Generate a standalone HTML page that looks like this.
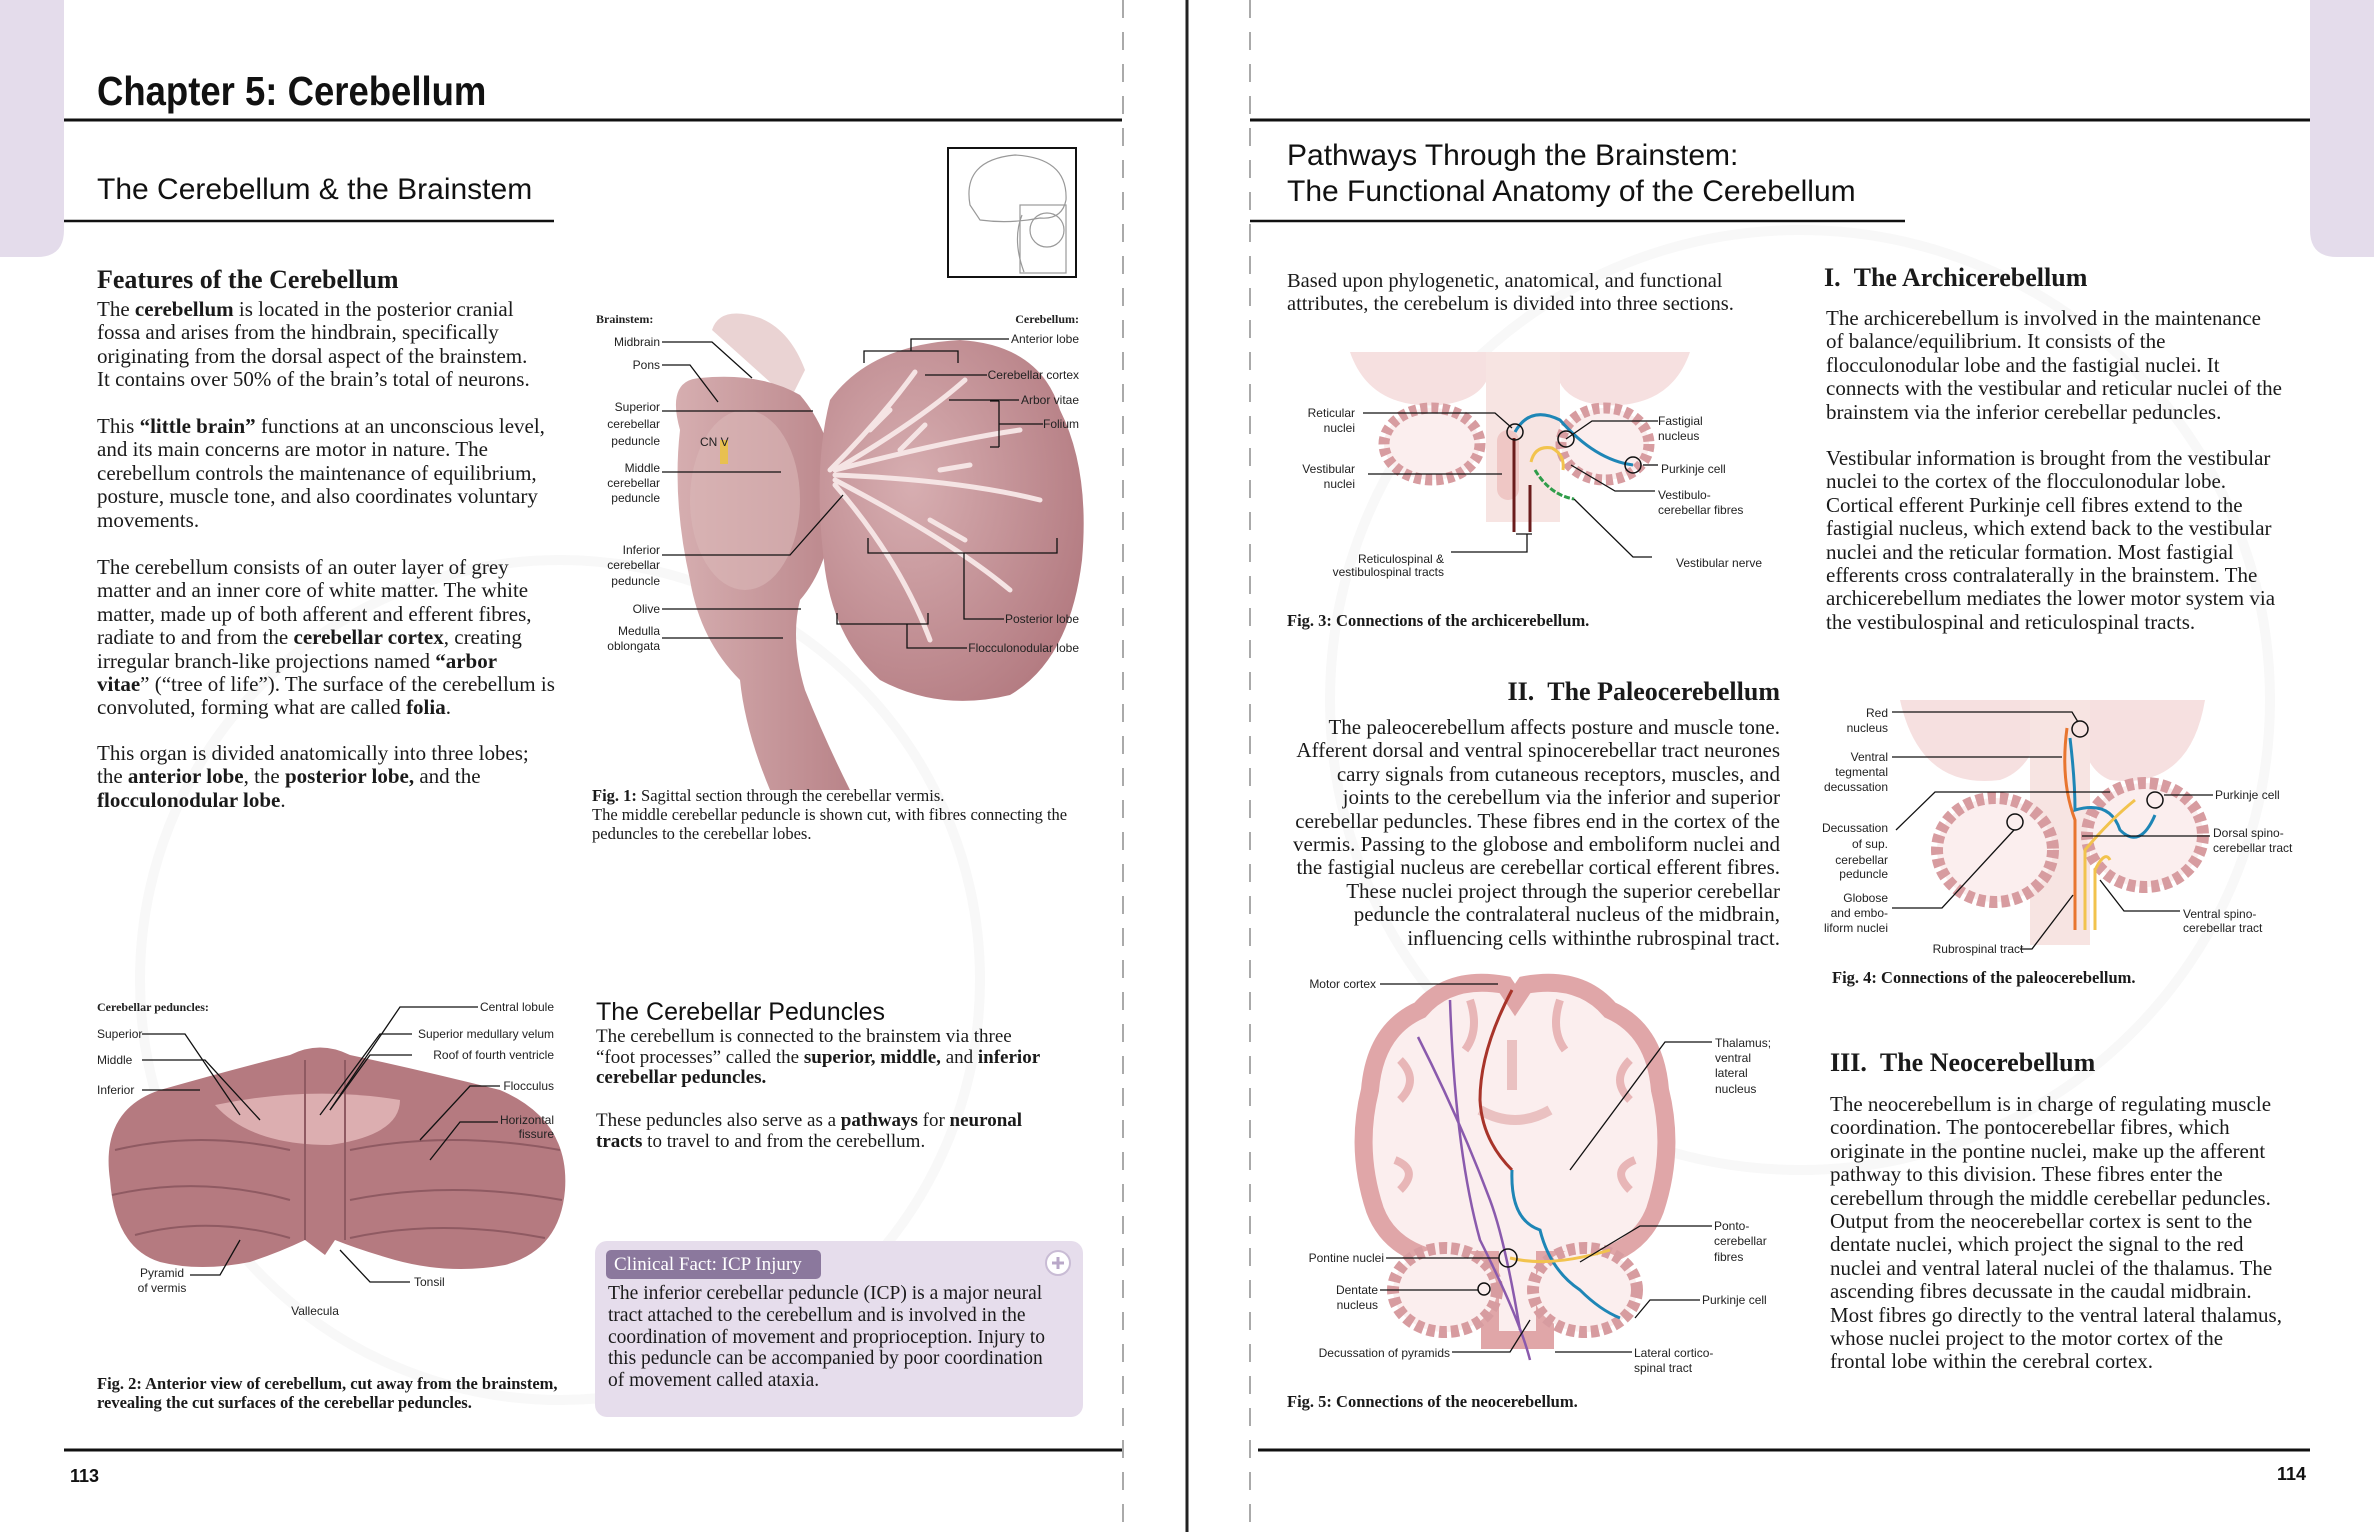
<!DOCTYPE html>
<html><head><meta charset="utf-8">
<style>
html,body{margin:0;padding:0;background:#fff}
#p{position:relative;width:2374px;height:1532px;overflow:hidden;background:#fff;font-family:"Liberation Serif",serif;color:#1a1a1a}
.t{position:absolute;font-size:21px;line-height:23.4px;white-space:nowrap}
.r{text-align:right}
.h{position:absolute;font-family:"Liberation Sans",sans-serif;white-space:nowrap;color:#111}
.cap{position:absolute;font-size:16.5px;line-height:19px;white-space:nowrap}
svg text{font-family:"Liberation Sans",sans-serif;font-size:12px;fill:#222}
</style></head><body><div id="p">

<svg width="2374" height="1532" style="position:absolute;left:0;top:0">
<defs>
<radialGradient id="cb" cx="0.35" cy="0.4" r="0.7"><stop offset="0" stop-color="#d7aeb1"/><stop offset="1" stop-color="#b47c82"/></radialGradient>
<linearGradient id="bs" x1="0" y1="0" x2="1" y2="0"><stop offset="0" stop-color="#d6aeb0"/><stop offset="1" stop-color="#b98489"/></linearGradient>
</defs>
<!-- tabs -->
<path d="M0 0H64V230Q64 257 37 257H0Z" fill="#e4dceb"/>
<path d="M2310 0H2374V257H2337Q2310 257 2310 230Z" fill="#e4dceb"/>
<!-- faint watermark -->
<g fill="none" stroke="#f8f8f8" stroke-width="10">
<circle cx="560" cy="980" r="420"/><circle cx="1800" cy="700" r="470"/>
</g>
<!-- divider lines -->
<line x1="1123" y1="0" x2="1123" y2="1532" stroke="#aaa" stroke-width="2" stroke-dasharray="18 14"/>
<line x1="1250" y1="0" x2="1250" y2="1532" stroke="#aaa" stroke-width="2" stroke-dasharray="18 14"/>
<line x1="1187" y1="0" x2="1187" y2="1532" stroke="#222" stroke-width="3"/>
<line x1="64" y1="120" x2="1122" y2="120" stroke="#111" stroke-width="3"/>
<line x1="1250" y1="120" x2="2310" y2="120" stroke="#111" stroke-width="3"/>
<line x1="64" y1="221" x2="554" y2="221" stroke="#111" stroke-width="2.5"/>
<line x1="1250" y1="221" x2="1905" y2="221" stroke="#111" stroke-width="2.5"/>
<line x1="64" y1="1450" x2="1122" y2="1450" stroke="#111" stroke-width="3"/>
<line x1="1258" y1="1450" x2="2310" y2="1450" stroke="#111" stroke-width="3"/>

<!-- thumbnail -->
<rect x="948" y="148" width="128" height="129" fill="#fff" stroke="#111" stroke-width="2"/>
<g fill="none" stroke="#999" stroke-width="1.2">
<path d="M970 205Q962 160 1015 155Q1068 158 1066 200Q1062 220 1040 218Q1010 224 980 220Z"/>
<path d="M1022 215Q1012 240 1024 272"/><rect x="1020" y="205" width="46" height="68"/>
<circle cx="1047" cy="230" r="17"/>
</g>

<!-- FIG 1 -->
<g>
<path d="M712 330Q720 305 760 318Q790 330 805 370L790 400Z" fill="#ead3d3"/>
<path d="M680 430Q666 380 700 378Q760 372 800 395Q830 430 835 480Q835 560 800 600Q790 640 805 690Q825 740 850 790L770 790Q745 730 740 680Q700 640 690 580Q672 500 680 430Z" fill="url(#bs)"/>
<ellipse cx="745" cy="500" rx="55" ry="90" fill="#dab7b8" opacity="0.6"/>
<path d="M830 400Q870 345 960 340Q1040 345 1060 410Q1090 470 1082 560Q1070 660 1010 695Q940 712 880 680Q835 640 825 570Q812 470 830 400Z" fill="url(#cb)"/>
<g stroke="#f5e4e4" stroke-width="5" fill="none" stroke-linecap="round">
<path d="M830 470Q880 420 915 372"/><path d="M835 470Q920 420 965 380"/><path d="M835 470Q950 440 1020 430"/>
<path d="M835 475Q960 480 1040 500"/><path d="M835 480Q950 540 1010 590"/><path d="M835 485Q900 560 930 640"/>
<path d="M870 430L890 410M900 450L925 425M940 470L970 465M930 520L965 540"/>
</g>
<rect x="720" y="440" width="8" height="24" fill="#e8c050"/>
</g>
<g stroke="#111" stroke-width="1.3" fill="none">
<path d="M662 342H712L752 378"/><path d="M662 365H690L718 402"/>
<path d="M662 411H813"/><path d="M662 472H781"/><path d="M662 555H790L843 495"/>
<path d="M662 609H801"/><path d="M662 638H783"/>
<path d="M1009 339H911V351M864 363V351H958V363"/><path d="M987 375H925"/><path d="M1019 400H949"/>
<path d="M1043 424H999M999 401V447M990 401H999M990 447H999"/>
<path d="M1004 619H964V553M868 538V553H1057V538"/>
<path d="M967 648H907V624M837 613V624H928V613"/>
</g>
<text x="596" y="323" font-weight="bold" style="font-family:'Liberation Serif',serif">Brainstem:</text>
<g text-anchor="end">
<text x="660" y="346">Midbrain</text><text x="660" y="369">Pons</text>
<text x="660" y="411">Superior</text><text x="660" y="428">cerebellar</text><text x="660" y="445">peduncle</text>
<text x="660" y="472">Middle</text><text x="660" y="487">cerebellar</text><text x="660" y="502">peduncle</text>
<text x="660" y="554">Inferior</text><text x="660" y="569">cerebellar</text><text x="660" y="585">peduncle</text>
<text x="660" y="613">Olive</text><text x="660" y="635">Medulla</text><text x="660" y="650">oblongata</text>
<text x="1079" y="323" font-weight="bold" style="font-family:'Liberation Serif',serif">Cerebellum:</text>
<text x="1079" y="343">Anterior lobe</text><text x="1079" y="379">Cerebellar cortex</text>
<text x="1079" y="404">Arbor vitae</text><text x="1079" y="428">Folium</text>
<text x="1079" y="623">Posterior lobe</text><text x="1079" y="652">Flocculonodular lobe</text>
</g>
<text x="700" y="446" font-size="11">CN V</text>

<!-- FIG 2 -->
<path d="M110 1180Q100 1110 160 1090Q230 1070 290 1055Q320 1040 350 1055Q420 1070 500 1090Q570 1120 565 1190Q560 1250 505 1265Q450 1275 395 1260Q360 1250 335 1240L325 1255L305 1240Q280 1252 250 1262Q200 1272 160 1262Q115 1248 110 1180Z" fill="#b57a80"/>
<path d="M215 1105Q310 1085 400 1100Q400 1135 330 1145Q250 1145 215 1105Z" fill="#dcaeb0"/>
<g stroke="#8f5a62" stroke-width="2" fill="none">
<path d="M115 1150Q200 1130 290 1150M350 1150Q450 1130 560 1150"/><path d="M112 1195Q200 1175 290 1200M350 1200Q450 1180 562 1200"/><path d="M135 1235Q210 1215 290 1238M350 1238Q440 1218 545 1238"/>
<path d="M305 1060V1240M345 1060V1240"/>
</g>
<g stroke="#111" stroke-width="1.3" fill="none">
<path d="M142 1034H185L240 1115"/><path d="M142 1060H205L260 1120"/><path d="M142 1090H200"/>
<path d="M478 1007H400L330 1110"/><path d="M412 1034H380L320 1115"/><path d="M412 1055H370L330 1110"/>
<path d="M500 1086H470L420 1140"/><path d="M498 1122H460L430 1160"/>
<path d="M190 1275H220L240 1240"/><path d="M410 1282H370L340 1250"/>
</g>
<text x="97" y="1011" font-weight="bold" style="font-family:'Liberation Serif',serif">Cerebellar peduncles:</text>
<text x="97" y="1038">Superior</text><text x="97" y="1064">Middle</text><text x="97" y="1094">Inferior</text>
<g text-anchor="end"><text x="554" y="1011">Central lobule</text><text x="554" y="1038">Superior medullary velum</text>
<text x="554" y="1059">Roof of fourth ventricle</text><text x="554" y="1090">Flocculus</text>
<text x="554" y="1124">Horizontal</text><text x="554" y="1138">fissure</text></g>
<g text-anchor="middle"><text x="162" y="1277">Pyramid</text><text x="162" y="1292">of vermis</text>
<text x="315" y="1315">Vallecula</text></g><text x="414" y="1286">Tonsil</text>

<!-- FIG 3 -->
<g>
<path d="M1350 352Q1370 410 1440 405Q1485 400 1490 370L1490 352Z" fill="#f6e0e0"/>
<path d="M1690 352Q1670 410 1600 405Q1560 400 1556 370V352Z" fill="#f6e0e0"/>
<rect x="1486" y="352" width="74" height="170" fill="#f7e4e2"/>
<ellipse cx="1432" cy="444" rx="48" ry="36" fill="#fbeeee" stroke="#d79ca0" stroke-width="11" stroke-dasharray="7 4"/>
<ellipse cx="1605" cy="444" rx="44" ry="36" fill="#fbeeee" stroke="#d79ca0" stroke-width="11" stroke-dasharray="7 4"/>
<rect x="1497" y="430" width="22" height="70" rx="11" fill="#efc7c5"/>
<path d="M1515 432Q1530 405 1560 420Q1595 460 1633 465" stroke="#1e86b6" stroke-width="3" fill="none"/>
<path d="M1531 462Q1535 445 1552 448Q1565 455 1563 470" stroke="#f2c34d" stroke-width="3" fill="none"/>
<path d="M1535 470Q1550 495 1574 499" stroke="#2f9d4a" stroke-width="3" fill="none" stroke-dasharray="6 2"/>
<path d="M1514 438V532M1530 485V532" stroke="#6b1c1c" stroke-width="3"/>
<circle cx="1515" cy="432" r="8" fill="none" stroke="#111" stroke-width="1.5"/>
<circle cx="1566" cy="439" r="8" fill="none" stroke="#111" stroke-width="1.5"/>
<circle cx="1633" cy="465" r="8" fill="none" stroke="#111" stroke-width="1.5"/>
</g>
<g stroke="#111" stroke-width="1.3" fill="none">
<path d="M1363 413H1495L1512 428"/><path d="M1368 474H1502"/><path d="M1451 552H1527V534M1516 534H1532"/>
<path d="M1658 421H1592L1566 439"/><path d="M1658 465H1643"/><path d="M1655 491H1615L1571 465"/>
<path d="M1652 557H1633L1574 499"/>
</g>
<g text-anchor="end"><text x="1355" y="417">Reticular</text><text x="1355" y="432">nuclei</text>
<text x="1355" y="473">Vestibular</text><text x="1355" y="488">nuclei</text>
<text x="1444" y="563">Reticulospinal &amp;</text><text x="1444" y="576">vestibulospinal tracts</text></g>
<text x="1658" y="425">Fastigial</text><text x="1658" y="440">nucleus</text><text x="1661" y="473">Purkinje cell</text>
<text x="1658" y="499">Vestibulo-</text><text x="1658" y="514">cerebellar fibres</text><text x="1676" y="567">Vestibular nerve</text>

<!-- FIG 4 -->
<g>
<path d="M1900 700Q1920 790 2000 780Q2030 770 2040 730V700Z" fill="#f6e0e0"/>
<path d="M2205 700Q2190 790 2110 780Q2085 770 2080 730V700Z" fill="#f6e0e0"/>
<rect x="2030" y="700" width="60" height="245" fill="#f7e4e2"/>
<ellipse cx="1995" cy="850" rx="58" ry="52" fill="#fbeeee" stroke="#d79ca0" stroke-width="12" stroke-dasharray="8 4"/>
<ellipse cx="2145" cy="835" rx="58" ry="52" fill="#fbeeee" stroke="#d79ca0" stroke-width="12" stroke-dasharray="8 4"/>
<path d="M2067 728Q2060 780 2075 820V930" stroke="#e8752f" stroke-width="3" fill="none"/>
<path d="M2070 738Q2075 780 2075 810Q2110 800 2120 830Q2140 850 2155 815" stroke="#1e86b6" stroke-width="3" fill="none"/>
<path d="M2085 930V850Q2110 820 2135 800M2095 930V870Q2105 850 2110 860" stroke="#f2c34d" stroke-width="3" fill="none"/>
<circle cx="2080" cy="729" r="8" fill="none" stroke="#111" stroke-width="1.5"/>
<circle cx="2015" cy="822" r="8" fill="none" stroke="#111" stroke-width="1.5"/>
<circle cx="2155" cy="800" r="8" fill="none" stroke="#111" stroke-width="1.5"/>
</g>
<g stroke="#111" stroke-width="1.3" fill="none">
<path d="M1892 712H2072L2078 722"/><path d="M1892 757H2062"/><path d="M1896 830L1935 792H2110"/>
<path d="M1892 908H1942L2014 830"/><path d="M2020 949H2032L2073 895"/>
<path d="M2213 795H2164"/><path d="M2210 836H2082"/><path d="M2180 911H2124L2100 880"/>
</g>
<g text-anchor="end"><text x="1888" y="717">Red</text><text x="1888" y="732">nucleus</text>
<text x="1888" y="761">Ventral</text><text x="1888" y="776">tegmental</text><text x="1888" y="791">decussation</text>
<text x="1888" y="832">Decussation</text><text x="1888" y="848">of sup.</text><text x="1888" y="864">cerebellar</text><text x="1888" y="878">peduncle</text>
<text x="1888" y="902">Globose</text><text x="1888" y="917">and embo-</text><text x="1888" y="932">liform nuclei</text></g>
<text x="1978" y="953" text-anchor="middle">Rubrospinal tract</text>
<text x="2215" y="799">Purkinje cell</text><text x="2213" y="837">Dorsal spino-</text><text x="2213" y="852">cerebellar tract</text>
<text x="2183" y="918">Ventral spino-</text><text x="2183" y="932">cerebellar tract</text>

<!-- FIG 5 -->
<g>
<path d="M1505 985Q1450 975 1420 1010Q1375 1030 1370 1090Q1355 1150 1375 1210Q1390 1250 1440 1260L1490 1260V1340H1545V1260L1590 1260Q1640 1250 1655 1210Q1675 1150 1660 1090Q1655 1030 1610 1010Q1580 975 1525 985L1515 1000Z" fill="#fbeeee" stroke="#e0a6a8" stroke-width="18"/>
<g stroke="#e8b6b7" stroke-width="8" fill="none">
<path d="M1400 1060Q1420 1080 1400 1100M1630 1060Q1610 1080 1630 1100M1395 1160Q1420 1170 1400 1190M1635 1160Q1610 1170 1630 1190M1470 1000Q1480 1030 1465 1050M1560 1000Q1550 1030 1565 1050"/>
</g>
<ellipse cx="1445" cy="1290" rx="52" ry="42" fill="#fbeeee" stroke="#d79ca0" stroke-width="12" stroke-dasharray="8 4"/>
<ellipse cx="1585" cy="1290" rx="52" ry="42" fill="#fbeeee" stroke="#d79ca0" stroke-width="12" stroke-dasharray="8 4"/>
<path d="M1512 1040V1090M1480 1110Q1515 1130 1550 1110" stroke="#eac1c1" stroke-width="10" fill="none"/>
<path d="M1512 990Q1480 1050 1480 1100Q1482 1140 1512 1170" stroke="#a8342a" stroke-width="3" fill="none"/>
<path d="M1450 1000Q1455 1150 1480 1240Q1520 1320 1530 1360M1418 1037Q1460 1120 1490 1200Q1505 1240 1520 1330" stroke="#8a5aad" stroke-width="2.5" fill="none"/>
<path d="M1512 1170Q1510 1220 1540 1230Q1550 1270 1580 1290Q1600 1310 1620 1318" stroke="#1e86b6" stroke-width="3" fill="none"/>
<path d="M1510 1258Q1550 1268 1610 1250" stroke="#f2c34d" stroke-width="3" fill="none"/>
<circle cx="1508" cy="1258" r="9" fill="none" stroke="#111" stroke-width="1.5"/>
<circle cx="1484" cy="1289" r="6" fill="none" stroke="#111" stroke-width="1.5"/>
</g>
<g stroke="#111" stroke-width="1.3" fill="none">
<path d="M1380 984H1498"/><path d="M1712 1042H1665L1570 1170"/><path d="M1712 1226H1640L1580 1262"/>
<path d="M1700 1300H1650L1635 1318"/><path d="M1386 1258H1499"/><path d="M1380 1290H1478"/>
<path d="M1452 1352H1510L1530 1320"/><path d="M1632 1352H1555"/>
</g>
<text x="1376" y="988" text-anchor="end">Motor cortex</text>
<text x="1715" y="1047">Thalamus;</text><text x="1715" y="1062">ventral</text><text x="1715" y="1077">lateral</text><text x="1715" y="1093">nucleus</text>
<text x="1714" y="1230">Ponto-</text><text x="1714" y="1245">cerebellar</text><text x="1714" y="1261">fibres</text>
<text x="1702" y="1304">Purkinje cell</text>
<g text-anchor="end"><text x="1384" y="1262">Pontine nuclei</text><text x="1378" y="1294">Dentate</text><text x="1378" y="1309">nucleus</text>
<text x="1450" y="1357">Decussation of pyramids</text></g>
<text x="1634" y="1357">Lateral cortico-</text><text x="1634" y="1372">spinal tract</text>

<!-- clinical box -->
<rect x="595" y="1241" width="488" height="176" rx="12" fill="#e6ddec"/>
<rect x="606" y="1250" width="215" height="29" rx="5" fill="#8b789d"/>
<circle cx="1058" cy="1263" r="12" fill="#fff" stroke="#c9bcd5" stroke-width="2"/>
<path d="M1052 1263H1064M1058 1257V1269" stroke="#b9a8c8" stroke-width="3"/>
</svg>

<!-- Headings -->
<div class="h" style="left:97px;top:68px;font-size:41px;font-weight:bold;transform:scaleX(.89);transform-origin:0 0">Chapter 5: Cerebellum</div>
<div class="h" style="left:97px;top:173px;font-size:30px">The Cerebellum &amp; the Brainstem</div>
<div class="h" style="left:1287px;top:138px;font-size:30px;line-height:36px">Pathways Through the Brainstem:<br>The Functional Anatomy of the Cerebellum</div>
<div class="h" style="left:70px;top:1466px;font-size:18px;font-weight:bold">113</div>
<div class="h" style="left:2270px;top:1464px;font-size:18px;font-weight:bold;width:36px;text-align:right">114</div>

<!-- Left page text -->
<div class="t" style="left:97px;top:268px;font-size:26px;font-weight:bold">Features of the Cerebellum</div>
<div class="t" style="left:97px;top:298px">The <b>cerebellum</b> is located in the posterior cranial<br>fossa and arises from the hindbrain, specifically<br>originating from the dorsal aspect of the brainstem.<br>It contains over 50% of the brain’s total of neurons.</div>
<div class="t" style="left:97px;top:415px">This <b>“little brain”</b> functions at an unconscious level,<br>and its main concerns are motor in nature. The<br>cerebellum controls the maintenance of equilibrium,<br>posture, muscle tone, and also coordinates voluntary<br>movements.</div>
<div class="t" style="left:97px;top:556px">The cerebellum consists of an outer layer of grey<br>matter and an inner core of white matter. The white<br>matter, made up of both afferent and efferent fibres,<br>radiate to and from the <b>cerebellar cortex</b>, creating<br>irregular branch-like projections named <b>“arbor<br>vitae</b>” (“tree of life”). The surface of the cerebellum is<br>convoluted, forming what are called <b>folia</b>.</div>
<div class="t" style="left:97px;top:742px">This organ is divided anatomically into three lobes;<br>the <b>anterior lobe</b>, the <b>posterior lobe,</b> and the<br><b>flocculonodular lobe</b>.</div>
<div class="cap" style="left:592px;top:786px"><b>Fig. 1:</b> Sagittal section through the cerebellar vermis.<br>The middle cerebellar peduncle is shown cut, with fibres connecting the<br>peduncles to the cerebellar lobes.</div>
<div class="cap" style="left:97px;top:1374px;font-weight:bold">Fig. 2: Anterior view of cerebellum, cut away from the brainstem,<br>revealing the cut surfaces of the cerebellar peduncles.</div>
<div class="h" style="left:596px;top:998px;font-size:25px">The Cerebellar Peduncles</div>
<div class="t" style="left:596px;top:1027px;font-size:19px;line-height:20.5px">The cerebellum is connected to the brainstem via three<br>“foot processes” called the <b>superior, middle,</b> and <b>inferior<br>cerebellar peduncles.</b></div>
<div class="t" style="left:596px;top:1111px;font-size:19px;line-height:20.5px">These peduncles also serve as a <b>pathways</b> for <b>neuronal<br>tracts</b> to travel to and from the cerebellum.</div>
<div class="t" style="left:614px;top:1253px;font-size:19px;color:#fff">Clinical Fact: ICP Injury</div>
<div class="t" style="left:608px;top:1283px;font-size:19.5px;line-height:21.8px">The inferior cerebellar peduncle (ICP) is a major neural<br>tract attached to the cerebellum and is involved in the<br>coordination of movement and proprioception. Injury to<br>this peduncle can be accompanied by poor coordination<br>of movement called ataxia.</div>

<!-- Right page text -->
<div class="t" style="left:1287px;top:270px;font-size:20.5px;line-height:23px">Based upon phylogenetic, anatomical, and functional<br>attributes, the cerebelum is divided into three sections.</div>
<div class="t" style="left:1824px;top:266px;font-size:26px;font-weight:bold">I.&nbsp;&nbsp;The Archicerebellum</div>
<div class="t" style="left:1826px;top:307px">The archicerebellum is involved in the maintenance<br>of balance/equilibrium. It consists of the<br>flocculonodular lobe and the fastigial nuclei. It<br>connects with the vestibular and reticular nuclei of the<br>brainstem via the inferior cerebellar peduncles.</div>
<div class="t" style="left:1826px;top:447px">Vestibular information is brought from the vestibular<br>nuclei to the cortex of the flocculonodular lobe.<br>Cortical efferent Purkinje cell fibres extend to the<br>fastigial nucleus, which extend back to the vestibular<br>nuclei and the reticular formation. Most fastigial<br>efferents cross contralaterally in the brainstem. The<br>archicerebellum mediates the lower motor system via<br>the vestibulospinal and reticulospinal tracts.</div>
<div class="cap" style="left:1287px;top:611px;font-weight:bold">Fig. 3: Connections of the archicerebellum.</div>
<div class="t r" style="left:1280px;width:500px;top:680px;font-size:26px;font-weight:bold">II.&nbsp;&nbsp;The Paleocerebellum</div>
<div class="t r" style="left:1180px;width:600px;top:716px">The paleocerebellum affects posture and muscle tone.<br>Afferent dorsal and ventral spinocerebellar tract neurones<br>carry signals from cutaneous receptors, muscles, and<br>joints to the cerebellum via the inferior and superior<br>cerebellar peduncles. These fibres end in the cortex of the<br>vermis. Passing to the globose and emboliform nuclei and<br>the fastigial nucleus are cerebellar cortical efferent fibres.<br>These nuclei project through the superior cerebellar<br>peduncle the contralateral nucleus of the midbrain,<br>influencing cells withinthe rubrospinal tract.</div>
<div class="cap" style="left:1832px;top:968px;font-weight:bold">Fig. 4: Connections of the paleocerebellum.</div>
<div class="t" style="left:1830px;top:1051px;font-size:26px;font-weight:bold">III.&nbsp;&nbsp;The Neocerebellum</div>
<div class="t" style="left:1830px;top:1093px">The neocerebellum is in charge of regulating muscle<br>coordination. The pontocerebellar fibres, which<br>originate in the pontine nuclei, make up the afferent<br>pathway to this division. These fibres enter the<br>cerebellum through the middle cerebellar peduncles.<br>Output from the neocerebellar cortex is sent to the<br>dentate nuclei, which project the signal to the red<br>nuclei and ventral lateral nuclei of the thalamus. The<br>ascending fibres decussate in the caudal midbrain.<br>Most fibres go directly to the ventral lateral thalamus,<br>whose nuclei project to the motor cortex of the<br>frontal lobe within the cerebral cortex.</div>
<div class="cap" style="left:1287px;top:1392px;font-weight:bold">Fig. 5: Connections of the neocerebellum.</div>

</div></body></html>
